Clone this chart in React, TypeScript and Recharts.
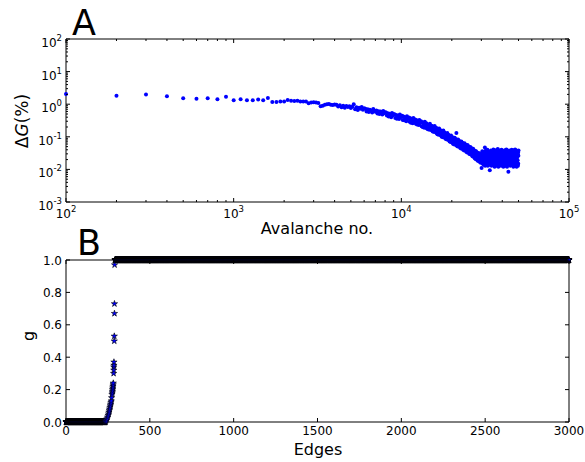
import React from 'react';
import { ScatterChart, Scatter, XAxis, YAxis, ReferenceLine } from 'recharts';

const FONT = '"DejaVu Sans", "Liberation Sans", sans-serif';

// Panel A: ΔG (%), one sample every 100 avalanches (100 … 50000),
// one row per 1000 avalanches.
const AVALANCHE_STEP = 100;
const deltaG: number[][] = [
  [2.05, 1.82, 2.0, 1.74, 1.52, 1.48, 1.52, 1.42, 1.7, 1.32],
  [1.42, 1.32, 1.32, 1.4, 1.32, 1.55, 1.17, 1.17, 1.22, 1.22],
  [1.34, 1.28, 1.25, 1.28, 1.22, 1.2, 1.2, 1.07, 1.12, 1.15],
  [1.12, 1.08, 0.86, 0.9, 0.96, 0.99, 1.01, 0.97, 0.95, 0.98],
  [0.97, 0.85, 0.93, 0.8, 0.9, 0.78, 0.88, 0.82, 0.86, 0.76],
  [0.83, 1.0, 0.7, 0.8, 0.66, 0.78, 0.72, 0.82, 0.68, 0.75],
  [0.72, 0.6, 0.7, 0.58, 0.68, 0.63, 0.56, 0.71, 0.62, 0.59],
  [0.64, 0.52, 0.61, 0.5, 0.6, 0.55, 0.48, 0.62, 0.53, 0.57],
  [0.56, 0.45, 0.53, 0.42, 0.51, 0.47, 0.4, 0.54, 0.46, 0.49],
  [0.49, 0.38, 0.47, 0.36, 0.45, 0.41, 0.35, 0.48, 0.4, 0.43],
  [0.44, 0.33, 0.42, 0.32, 0.4, 0.36, 0.3, 0.43, 0.35, 0.38],
  [0.39, 0.29, 0.37, 0.27, 0.35, 0.31, 0.26, 0.38, 0.3, 0.33],
  [0.34, 0.25, 0.32, 0.24, 0.31, 0.27, 0.23, 0.33, 0.26, 0.29],
  [0.3, 0.21, 0.28, 0.2, 0.27, 0.23, 0.19, 0.29, 0.22, 0.25],
  [0.26, 0.18, 0.24, 0.17, 0.23, 0.2, 0.165, 0.25, 0.19, 0.21],
  [0.22, 0.155, 0.21, 0.145, 0.2, 0.17, 0.14, 0.215, 0.16, 0.18],
  [0.19, 0.13, 0.18, 0.12, 0.17, 0.145, 0.115, 0.18, 0.135, 0.155],
  [0.16, 0.11, 0.15, 0.1, 0.14, 0.12, 0.097, 0.155, 0.115, 0.13],
  [0.135, 0.092, 0.125, 0.086, 0.12, 0.1, 0.082, 0.13, 0.095, 0.11],
  [0.115, 0.078, 0.105, 0.072, 0.1, 0.085, 0.069, 0.11, 0.08, 0.092],
  [0.098, 0.065, 0.09, 0.06, 0.085, 0.072, 0.058, 0.094, 0.068, 0.078],
  [0.085, 0.057, 0.13, 0.053, 0.075, 0.063, 0.05, 0.082, 0.06, 0.068],
  [0.075, 0.05, 0.07, 0.046, 0.066, 0.055, 0.044, 0.072, 0.052, 0.06],
  [0.066, 0.043, 0.061, 0.04, 0.058, 0.048, 0.038, 0.063, 0.045, 0.052],
  [0.058, 0.038, 0.054, 0.035, 0.051, 0.042, 0.033, 0.056, 0.04, 0.046],
  [0.051, 0.033, 0.047, 0.03, 0.045, 0.037, 0.029, 0.049, 0.035, 0.04],
  [0.045, 0.029, 0.041, 0.026, 0.039, 0.032, 0.025, 0.043, 0.03, 0.035],
  [0.039, 0.025, 0.036, 0.022, 0.034, 0.028, 0.021, 0.037, 0.026, 0.03],
  [0.034, 0.021, 0.031, 0.019, 0.029, 0.024, 0.018, 0.032, 0.022, 0.026],
  [0.031, 0.019, 0.028, 0.017, 0.026, 0.021, 0.016, 0.029, 0.02, 0.024],
  [0.011, 0.03, 0.018, 0.036, 0.021, 0.015, 0.027, 0.02, 0.033, 0.014],
  [0.025, 0.016, 0.031, 0.019, 0.047, 0.013, 0.028, 0.022, 0.038, 0.017],
  [0.021, 0.034, 0.015, 0.027, 0.019, 0.04, 0.023, 0.013, 0.03, 0.017],
  [0.026, 0.015, 0.035, 0.02, 0.029, 0.014, 0.0095, 0.024, 0.018, 0.032],
  [0.02, 0.038, 0.016, 0.027, 0.013, 0.033, 0.019, 0.025, 0.015, 0.036],
  [0.018, 0.03, 0.022, 0.041, 0.014, 0.026, 0.017, 0.037, 0.021, 0.012],
  [0.031, 0.019, 0.025, 0.015, 0.039, 0.018, 0.028, 0.013, 0.034, 0.022],
  [0.016, 0.035, 0.021, 0.029, 0.014, 0.042, 0.019, 0.026, 0.012, 0.032],
  [0.027, 0.017, 0.038, 0.022, 0.015, 0.031, 0.019, 0.036, 0.014, 0.025],
  [0.02, 0.033, 0.013, 0.028, 0.018, 0.04, 0.024, 0.016, 0.032, 0.021],
  [0.037, 0.015, 0.026, 0.019, 0.034, 0.012, 0.029, 0.022, 0.017, 0.036],
  [0.018, 0.031, 0.024, 0.014, 0.039, 0.021, 0.028, 0.013, 0.035, 0.017],
  [0.026, 0.019, 0.041, 0.015, 0.029, 0.022, 0.012, 0.034, 0.018, 0.031],
  [0.021, 0.036, 0.016, 0.027, 0.0085, 0.032, 0.019, 0.014, 0.038, 0.024],
  [0.015, 0.03, 0.022, 0.035, 0.018, 0.026, 0.013, 0.033, 0.02, 0.037],
  [0.027, 0.016, 0.034, 0.019, 0.04, 0.014, 0.024, 0.031, 0.018, 0.022],
  [0.019, 0.036, 0.015, 0.025, 0.032, 0.012, 0.028, 0.021, 0.039, 0.017],
  [0.029, 0.018, 0.024, 0.014, 0.035, 0.022, 0.041, 0.016, 0.027, 0.02],
  [0.014, 0.032, 0.021, 0.038, 0.018, 0.027, 0.012, 0.03, 0.023, 0.035],
  [0.024, 0.016, 0.036, 0.019, 0.029, 0.013, 0.033, 0.015, 0.026, 0.038],
];

const avalancheMajor = [100, 1000, 10000, 100000];
const avalancheMinor = [
  200, 300, 400, 500, 600, 700, 800, 900,
  2000, 3000, 4000, 5000, 6000, 7000, 8000, 9000,
  20000, 30000, 40000, 50000, 60000, 70000, 80000, 90000,
];
const deltaGMajor = [0.001, 0.01, 0.1, 1, 10, 100];
const deltaGMinor = [
  0.002, 0.003, 0.004, 0.005, 0.006, 0.007, 0.008, 0.009,
  0.02, 0.03, 0.04, 0.05, 0.06, 0.07, 0.08, 0.09,
  0.2, 0.3, 0.4, 0.5, 0.6, 0.7, 0.8, 0.9,
  2, 3, 4, 5, 6, 7, 8, 9,
  20, 30, 40, 50, 60, 70, 80, 90,
];

// Panel B: g vs number of edges. Flat runs, plus the jump.
const gFlatRuns = [
  { from: 0, to: 234, g: 0 },
  { from: 292, to: 3000, g: 1 },
];
const jumpEdges = [236, 240, 244, 248, 251, 254, 256, 258, 260, 262, 264, 266, 268, 270, 272, 274, 276, 277, 278, 279, 280, 281, 282, 284, 285, 285, 286, 286, 288, 288, 289, 289, 290];
const jumpG = [0.005, 0.01, 0.02, 0.03, 0.04, 0.05, 0.06, 0.07, 0.08, 0.09, 0.1, 0.11, 0.12, 0.13, 0.15, 0.17, 0.18, 0.19, 0.2, 0.21, 0.22, 0.23, 0.24, 0.3, 0.32, 0.34, 0.35, 0.37, 0.5, 0.53, 0.67, 0.73, 0.97];
const edgeTicks = [0, 500, 1000, 1500, 2000, 2500, 3000];
const gTicks = [0, 0.2, 0.4, 0.6, 0.8, 1.0];

const avalancheData = deltaG.flatMap((row, i) =>
  row.map((v, j) => ({ x: (i * 10 + j + 1) * AVALANCHE_STEP, y: v }))
);
const flatData = gFlatRuns.flatMap((run) => {
  const pts: { x: number; y: number }[] = [];
  for (let e = run.from; e <= run.to; e += 1) pts.push({ x: e, y: run.g });
  return pts;
});
const jumpData = jumpEdges.map((e, i) => ({ x: e, y: jumpG[i] }));

// plot box sizes (match the original figure)
const PW = 503;
const PH_A = 163;
const PH_B = 162;

const starPath = (cx: number, cy: number, R: number) => {
  const r = R * 0.382;
  let d = '';
  for (let i = 0; i < 10; i++) {
    const rad = i % 2 === 0 ? R : r;
    const a = -Math.PI / 2 + (i * Math.PI) / 5;
    d += (i === 0 ? 'M' : 'L') + (cx + rad * Math.cos(a)).toFixed(2) + ',' + (cy + rad * Math.sin(a)).toFixed(2);
  }
  return d + 'Z';
};

const Dot = (p: any) => <circle cx={p.cx} cy={p.cy} r={2} fill="#0000ff" />;
const Star = (p: any) => (
  <path d={starPath(p.cx, p.cy, 3.3)} fill="#0000ff" stroke="#000" strokeWidth={0.6} />
);
const DenseStar = (p: any) => (
  <path d={starPath(p.cx, p.cy, 3.3)} fill="#0000ff" stroke="#000" strokeWidth={0.9} />
);

const isMajor = (v: number, majors: number[]) => majors.some((m) => Math.abs(m - v) / m < 1e-6);

const Pow10 = ({ v, ...rest }: any) => {
  const exp = Math.round(Math.log10(v));
  return (
    <text fontFamily={FONT} fontSize={12} fill="#000" {...rest}>
      10<tspan dy={-6} fontSize={8.5}>{exp}</tspan>
    </text>
  );
};

const LogXTick = (props: any) => {
  const { x, y, payload } = props;
  const major = isMajor(payload.value, avalancheMajor);
  const len = major ? 4 : 2;
  return (
    <g>
      <line x1={x} x2={x} y1={y} y2={y - len} stroke="#000" />
      <line x1={x} x2={x} y1={y - PH_A} y2={y - PH_A + len} stroke="#000" />
      {major && <Pow10 v={payload.value} x={x} y={y + 16} textAnchor="middle" />}
    </g>
  );
};

const LogYTick = (props: any) => {
  const { x, y, payload } = props;
  const major = isMajor(payload.value, deltaGMajor);
  const len = major ? 4 : 2;
  return (
    <g>
      <line x1={x} x2={x + len} y1={y} y2={y} stroke="#000" />
      <line x1={x + PW} x2={x + PW - len} y1={y} y2={y} stroke="#000" />
      {major && <Pow10 v={payload.value} x={x - 4} y={y + 8} textAnchor="end" />}
    </g>
  );
};

const LinXTick = (props: any) => {
  const { x, y, payload } = props;
  return (
    <g>
      <line x1={x} x2={x} y1={y} y2={y - 4} stroke="#000" />
      <line x1={x} x2={x} y1={y - PH_B} y2={y - PH_B + 4} stroke="#000" />
      <text x={x} y={y + 13} textAnchor="middle" fontFamily={FONT} fontSize={12} fill="#000">
        {payload.value}
      </text>
    </g>
  );
};

const LinYTick = (props: any) => {
  const { x, y, payload } = props;
  return (
    <g>
      <line x1={x} x2={x + 4} y1={y} y2={y} stroke="#000" />
      <line x1={x + PW} x2={x + PW - 4} y1={y} y2={y} stroke="#000" />
      <text x={x - 4} y={y + 4.5} textAnchor="end" fontFamily={FONT} fontSize={12} fill="#000">
        {Number(payload.value).toFixed(1)}
      </text>
    </g>
  );
};

export default function App() {
  return (
    <div style={{ position: 'absolute', left: 0, top: 0, width: 585, height: 462, background: '#fff' }}>
      <div style={{ position: 'absolute', left: 0, top: 0 }}>
        <ScatterChart width={585} height={245} margin={{ top: 39, right: 16, bottom: 0, left: 0 }}>
          <XAxis
            type="number"
            dataKey="x"
            scale="log"
            domain={[100, 100000]}
            ticks={[...avalancheMajor, ...avalancheMinor]}
            interval={0}
            tick={LogXTick}
            tickLine={false}
            tickSize={0}
            tickMargin={0}
            height={43}
            axisLine={{ stroke: '#000' }}
          />
          <YAxis
            type="number"
            dataKey="y"
            scale="log"
            domain={[0.001, 100]}
            ticks={[...deltaGMajor, ...deltaGMinor]}
            interval={0}
            tick={LogYTick}
            tickLine={false}
            tickSize={0}
            tickMargin={0}
            width={66}
            axisLine={{ stroke: '#000' }}
          />
          <ReferenceLine y={100} stroke="#000" />
          <ReferenceLine x={100000} stroke="#000" />
          <Scatter data={avalancheData} shape={Dot} isAnimationActive={false} />
        </ScatterChart>
      </div>
      <div style={{ position: 'absolute', left: 0, top: 245 }}>
        <ScatterChart width={585} height={217} margin={{ top: 15, right: 16, bottom: 0, left: 0 }}>
          <XAxis
            type="number"
            dataKey="x"
            domain={[0, 3000]}
            ticks={edgeTicks}
            interval={0}
            tick={LinXTick}
            tickLine={false}
            tickSize={0}
            tickMargin={0}
            height={40}
            axisLine={{ stroke: '#000' }}
          />
          <YAxis
            type="number"
            dataKey="y"
            domain={[0, 1]}
            ticks={gTicks}
            interval={0}
            tick={LinYTick}
            tickLine={false}
            tickSize={0}
            tickMargin={0}
            width={66}
            axisLine={{ stroke: '#000' }}
          />
          <ReferenceLine y={1} stroke="#000" />
          <ReferenceLine x={3000} stroke="#000" />
          <Scatter data={flatData} shape={DenseStar} isAnimationActive={false} />
          <Scatter data={jumpData} shape={Star} isAnimationActive={false} />
        </ScatterChart>
      </div>
      <svg
        width={585}
        height={462}
        style={{ position: 'absolute', left: 0, top: 0, pointerEvents: 'none' }}
        fontFamily={FONT}
      >
        <text x={72} y={35} fontSize={35}>A</text>
        <text x={77} y={255} fontSize={35}>B</text>
        <text x={317} y={234} fontSize={16} textAnchor="middle">Avalanche no.</text>
        <text x={318} y={455} fontSize={16} textAnchor="middle">Edges</text>
        <text x={28} y={121} fontSize={17} textAnchor="middle" transform="rotate(-90 28 121)">
          Δ<tspan fontStyle="italic">G</tspan>(%)
        </text>
        <text x={34} y={336} fontSize={16} textAnchor="middle" transform="rotate(-90 34 336)">
          g
        </text>
      </svg>
    </div>
  );
}
